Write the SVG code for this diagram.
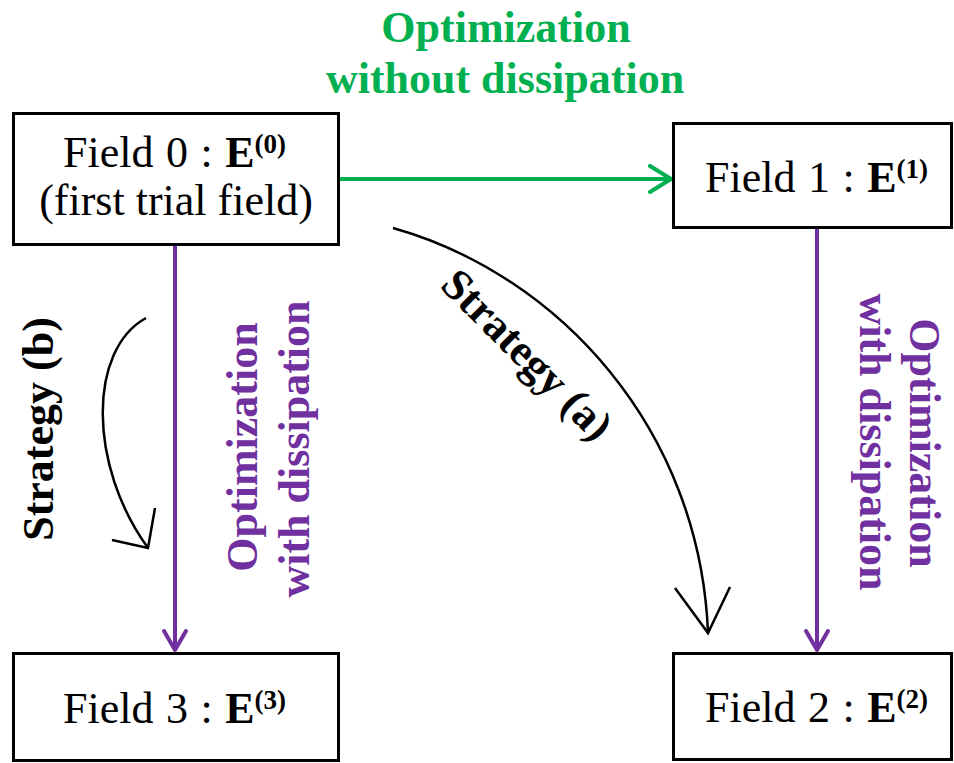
<svg xmlns="http://www.w3.org/2000/svg" width="954" height="763" viewBox="0 0 954 763">
<style>
.box{fill:#fff;stroke:#000;stroke-width:3}
.lbl{font-family:"Liberation Serif","Times New Roman",serif;font-size:44px;fill:#000}
.b{font-weight:bold}
.sup{font-weight:bold;font-size:27px}
.green{fill:#00B050}
.purple{fill:#7030A0}
.gline{stroke:#00B050;stroke-width:4;fill:none}
.pline{stroke:#7030A0;stroke-width:4;fill:none}
.kline{stroke:#000;stroke-width:2.5;fill:none}
</style>
<defs>
<marker id="ag" markerUnits="userSpaceOnUse" markerWidth="30" markerHeight="30" viewBox="-24 -15 28 30" refX="0" refY="0" orient="auto">
<path d="M-21,-13 L0,0 L-21,13" fill="none" stroke="#00B050" stroke-width="4" stroke-linecap="round" stroke-linejoin="round"/>
</marker>
<marker id="ap" markerUnits="userSpaceOnUse" markerWidth="30" markerHeight="30" viewBox="-24 -15 28 30" refX="0" refY="0" orient="auto">
<path d="M-19,-11 L0,0 L-19,11" fill="none" stroke="#7030A0" stroke-width="4" stroke-linecap="round" stroke-linejoin="round"/>
</marker>
</defs>

<g id="connectors">
<line class="gline" x1="339" y1="179" x2="671" y2="179" marker-end="url(#ag)"/>
<line class="pline" x1="175" y1="246" x2="175" y2="650" marker-end="url(#ap)"/>
<line class="pline" x1="817" y1="229" x2="817" y2="650" marker-end="url(#ap)"/>
<path class="kline" d="M393,228 C560,275 700,430 708,633"/>
<path class="kline" d="M675,588 L708,633 L730,587"/>
<path class="kline" d="M146,318 C88,350 88,465 148,548"/>
<path class="kline" d="M155,508 L148,548 L112,540"/>
</g>

<g id="title">
<text class="lbl b green" x="506" y="42" text-anchor="middle">Optimization</text>
<text class="lbl b green" x="505" y="93" text-anchor="middle">without dissipation</text>
</g>

<g id="label-left">
<text class="lbl b purple" transform="translate(257,447) rotate(-90)" text-anchor="middle">Optimization</text>
<text class="lbl b purple" transform="translate(309,449) rotate(-90)" text-anchor="middle">with dissipation</text>
</g>
<g id="label-right">
<text class="lbl b purple" transform="translate(910,443) rotate(90)" text-anchor="middle">Optimization</text>
<text class="lbl b purple" transform="translate(860,442) rotate(90)" text-anchor="middle">with dissipation</text>
</g>
<g id="label-strategy-b">
<text class="lbl b" transform="translate(53,429) rotate(-90)" text-anchor="middle">Strategy (b)</text>
</g>
<g id="label-strategy-a">
<text class="lbl b" transform="translate(517,365) rotate(45)" text-anchor="middle">Strategy (a)</text>
</g>

<g id="field0">
<rect class="box" x="13.5" y="113.5" width="325" height="131"/>
<text class="lbl" x="63" y="167" word-spacing="1.5">Field 0 : <tspan class="b">E</tspan><tspan class="sup" dy="-14">(0)</tspan></text>
<text class="lbl" x="176" y="215" text-anchor="middle">(first trial field)</text>
</g>
<g id="field1">
<rect class="box" x="673.5" y="123.5" width="278" height="104"/>
<text class="lbl" x="705" y="192" word-spacing="1.5">Field 1 : <tspan class="b">E</tspan><tspan class="sup" dy="-14">(1)</tspan></text>
</g>
<g id="field3">
<rect class="box" x="13.5" y="653.5" width="325" height="107"/>
<text class="lbl" x="63" y="723" word-spacing="1.5">Field 3 : <tspan class="b">E</tspan><tspan class="sup" dy="-14">(3)</tspan></text>
</g>
<g id="field2">
<rect class="box" x="673.5" y="653.5" width="278" height="106"/>
<text class="lbl" x="705" y="722" word-spacing="1.5">Field 2 : <tspan class="b">E</tspan><tspan class="sup" dy="-14">(2)</tspan></text>
</g>
</svg>
